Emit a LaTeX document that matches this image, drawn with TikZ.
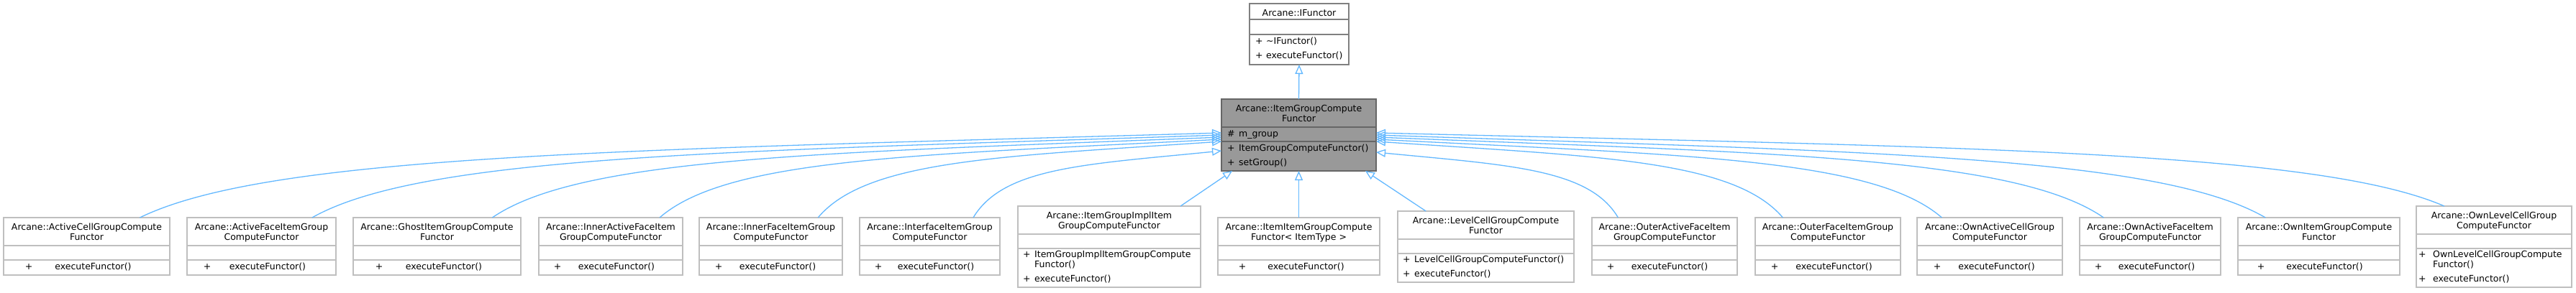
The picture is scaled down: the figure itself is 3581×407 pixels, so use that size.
\documentclass[tikz,border=0pt]{standalone}
\usepackage{fontspec}
\setmainfont{DejaVu Sans}
\usetikzlibrary{arrows.meta,calc}
\definecolor{edgeblue}{HTML}{63B8FF}
\definecolor{lightborder}{HTML}{BFBFBF}
\definecolor{topborder}{HTML}{808080}
\definecolor{midborder}{HTML}{666666}
\definecolor{midfill}{HTML}{999999}
\newcommand\umlbox[8]{%
  \node[#1, anchor=north west, minimum width={(#4)-(#3)}, minimum height={(#8)-(#5)}] (#2) at (#3,#5) {};
  \draw[#1sep] (#3,#6) -- (#4,#6);
  \draw[#1sep] (#3,#7) -- (#4,#7);
}
\newcommand\tc[3]{\node[txt] at (#1,#2) {#3};}
\newcommand\tl[3]{\node[txtl] at (#1,#2) {#3};}
\newcommand\ledge[5]{\draw[inh] ($(#1.north west)!#2!(#1.north east)$) .. controls +(#3) and +(#4) .. ([yshift=#5pt]mid.west);}
\newcommand\redge[5]{\draw[inh] ($(#1.north west)!#2!(#1.north east)$) .. controls +(#3) and +(#4) .. ([yshift=#5pt]mid.east);}
\begin{document}
\begin{tikzpicture}[x=1pt,y=-1pt,
  every node/.style={font=\fontsize{12.5}{14.4}\selectfont},
  ubox/.style={draw=lightborder, fill=white, line width=1.3pt, inner sep=0pt, outer sep=0pt},
  uboxsep/.style={draw=lightborder, line width=1.3pt},
  topbox/.style={draw=topborder, fill=white, line width=1.3pt, inner sep=0pt, outer sep=0pt},
  topboxsep/.style={draw=topborder, line width=1.3pt},
  midbox/.style={draw=midborder, fill=midfill, line width=1.3pt, inner sep=0pt, outer sep=0pt},
  midboxsep/.style={draw=midborder, line width=1.3pt},
  txt/.style={anchor=base, inner sep=0pt},
  txtl/.style={anchor=base west, inner sep=0pt},
  inh/.style={draw=edgeblue, line width=1.3pt, -{Triangle[open,length=13pt,width=11pt]}}]
\useasboundingbox (0,0) rectangle (3581,407);

% top class
\umlbox{topbox}{tf}{1737}{1875}{5}{27}{48}{90}
\tc{1806}{22}{Arcane::IFunctor}
\tl{1745}{61.5}{+}\tl{1760}{61.5}{\textasciitilde IFunctor()}
\tl{1745}{81.5}{+}\tl{1760}{81.5}{executeFunctor()}

% middle class
\umlbox{midbox}{mid}{1698}{1913}{138}{177}{197}{238}
\tc{1805.5}{155}{Arcane::ItemGroupCompute}
\tc{1805.5}{169.5}{Functor}
\tl{1706}{190}{\#}\tl{1722}{190}{m\_group}
\tl{1706}{210}{+}\tl{1722}{210}{ItemGroupComputeFunctor()}
\tl{1706}{230}{+}\tl{1722}{230}{setGroup()}

% bottom classes
\umlbox{ubox}{b1}{5}{236}{303}{342}{362}{383}
\tc{120.5}{320}{Arcane::ActiveCellGroupCompute}\tc{120.5}{334.5}{Functor}
\tc{40}{375}{+}\tc{129.5}{375}{executeFunctor()}

\umlbox{ubox}{b2}{260}{467}{303}{342}{362}{383}
\tc{363.5}{320}{Arcane::ActiveFaceItemGroup}\tc{363.5}{334.5}{ComputeFunctor}
\tc{288}{375}{+}\tc{372}{375}{executeFunctor()}

\umlbox{ubox}{b3}{491}{724}{303}{342}{362}{383}
\tc{607.5}{320}{Arcane::GhostItemGroupCompute}\tc{607.5}{334.5}{Functor}
\tc{527}{375}{+}\tc{617}{375}{executeFunctor()}

\umlbox{ubox}{b4}{749}{949}{303}{342}{362}{383}
\tc{849}{320}{Arcane::InnerActiveFaceItem}\tc{849}{334.5}{GroupComputeFunctor}
\tc{775}{375}{+}\tc{857}{375}{executeFunctor()}

\umlbox{ubox}{b5}{972}{1171}{303}{342}{362}{383}
\tc{1071.5}{320}{Arcane::InnerFaceItemGroup}\tc{1071.5}{334.5}{ComputeFunctor}
\tc{999}{375}{+}\tc{1081}{375}{executeFunctor()}

\umlbox{ubox}{b6}{1195}{1390}{303}{342}{362}{383}
\tc{1292.5}{320}{Arcane::InterfaceItemGroup}\tc{1292.5}{334.5}{ComputeFunctor}
\tc{1221}{375}{+}\tc{1301}{375}{executeFunctor()}

\umlbox{ubox}{b7}{1415}{1669}{287}{326}{346}{400}
\tc{1542}{304}{Arcane::ItemGroupImplItem}\tc{1542}{318.5}{GroupComputeFunctor}
\tl{1422}{358}{+}\tl{1438}{358}{ItemGroupImplItemGroupCompute}
\tl{1438}{372.4}{Functor()}
\tl{1422}{392}{+}\tl{1438}{392}{executeFunctor()}

\umlbox{ubox}{b8}{1693}{1918}{303}{342}{362}{383}
\tc{1805.5}{320}{Arcane::ItemItemGroupCompute}\tc{1805.5}{334.5}{Functor< ItemType >}
\tc{1727}{375}{+}\tc{1815.5}{375}{executeFunctor()}

\umlbox{ubox}{b9}{1943}{2188}{294}{333}{353}{393}
\tc{2065.5}{311}{Arcane::LevelCellGroupCompute}\tc{2065.5}{325.5}{Functor}
\tl{1950}{365.5}{+}\tl{1966}{365.5}{LevelCellGroupComputeFunctor()}
\tl{1950}{385.5}{+}\tl{1966}{385.5}{executeFunctor()}

\umlbox{ubox}{b10}{2213}{2415}{303}{342}{362}{383}
\tc{2314}{320}{Arcane::OuterActiveFaceItem}\tc{2314}{334.5}{GroupComputeFunctor}
\tc{2239}{375}{+}\tc{2321}{375}{executeFunctor()}

\umlbox{ubox}{b11}{2440}{2642}{303}{342}{362}{383}
\tc{2541}{320}{Arcane::OuterFaceItemGroup}\tc{2541}{334.5}{ComputeFunctor}
\tc{2467}{375}{+}\tc{2549.5}{375}{executeFunctor()}

\umlbox{ubox}{b12}{2665}{2867}{303}{342}{362}{383}
\tc{2766}{320}{Arcane::OwnActiveCellGroup}\tc{2766}{334.5}{ComputeFunctor}
\tc{2693}{375}{+}\tc{2775.5}{375}{executeFunctor()}

\umlbox{ubox}{b13}{2891}{3087}{303}{342}{362}{383}
\tc{2989}{320}{Arcane::OwnActiveFaceItem}\tc{2989}{334.5}{GroupComputeFunctor}
\tc{2917}{375}{+}\tc{2998}{375}{executeFunctor()}

\umlbox{ubox}{b14}{3111}{3336}{303}{342}{362}{383}
\tc{3223.5}{320}{Arcane::OwnItemGroupCompute}\tc{3223.5}{334.5}{Functor}
\tc{3143}{375}{+}\tc{3231.5}{375}{executeFunctor()}

\umlbox{ubox}{b15}{3359}{3575}{287}{326}{346}{400}
\tc{3467}{304}{Arcane::OwnLevelCellGroup}\tc{3467}{318.5}{ComputeFunctor}
\tl{3362}{358}{+}\tl{3382}{358}{OwnLevelCellGroupCompute}
\tl{3382}{372.4}{Functor()}
\tl{3362}{392}{+}\tl{3382}{392}{executeFunctor()}

% connectors
\draw[inh] (mid.north) -- (tf.south);
\ledge{b1}{0.82}{180,-88}{-827,24}{3}
\ledge{b2}{0.84}{152,-86}{-696,23}{0}
\ledge{b3}{0.83}{122,-84}{-557,22}{-3}
\ledge{b4}{0.84}{94,-82}{-430,22}{-6}
\ledge{b5}{0.83}{67,-80}{-309,21}{-9}
\ledge{b6}{0.81}{42,-70}{-190,19}{-22}
\draw[inh] ($(b7.north west)!0.89!(b7.north east)$) -- ($(mid.south west)!0.07!(mid.south east)$);
\draw[inh] (b8.north) -- (mid.south);
\draw[inh] ($(b9.north west)!0.16!(b9.north east)$) -- ($(mid.south west)!0.93!(mid.south east)$);
\redge{b10}{0.18}{-40,-68}{185,18}{-24}
\redge{b11}{0.19}{-68,-80}{311,21}{-9}
\redge{b12}{0.17}{-94,-82}{433,22}{-6}
\redge{b13}{0.17}{-121,-84}{557,22}{-3}
\redge{b14}{0.17}{-148,-86}{680,23}{0}
\redge{b15}{0.18}{-178,-77}{816,20}{3}
\end{tikzpicture}
\end{document}
